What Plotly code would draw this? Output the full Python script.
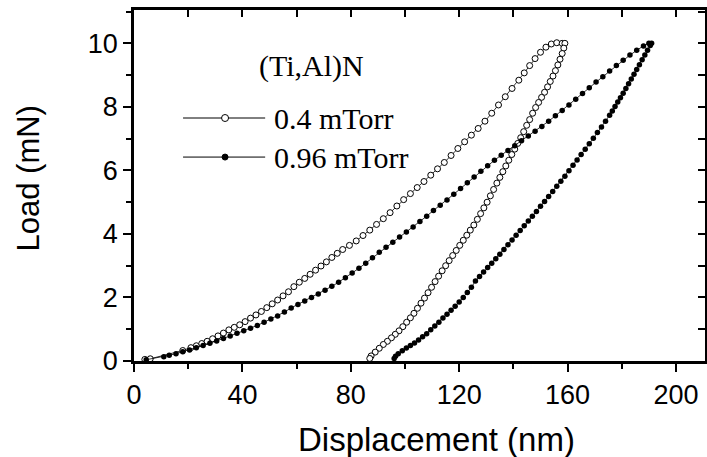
import plotly.graph_objects as go

# ---------------- data ----------------
# 0.4 mTorr, loading branch
open_load_x = [4, 6, 18, 21, 23, 25, 27, 29, 31, 33, 35, 37, 39, 41, 43, 45, 47, 49, 51, 53,
               55, 57, 59, 61, 63, 65, 67, 69, 71, 73, 75, 77, 79.5, 82, 84.5, 87, 89.5, 92,
               94.5, 97, 99.5, 102, 104.5, 107, 109.5, 112, 114.5, 117, 119.5, 122, 124.5,
               127, 129.5, 132, 134.5, 137, 139.5, 142, 144, 146, 148, 150, 152, 154, 156, 158]
open_load_y = [0.05, 0.07, 0.33, 0.42, 0.48, 0.55, 0.62, 0.70, 0.79, 0.88, 0.98, 1.06, 1.14,
               1.24, 1.35, 1.45, 1.56, 1.68, 1.80, 1.92, 2.05, 2.18, 2.34, 2.48, 2.60, 2.73,
               2.86, 2.99, 3.12, 3.26, 3.39, 3.51, 3.64, 3.78, 3.95, 4.12, 4.30, 4.48, 4.67,
               4.88, 5.08, 5.27, 5.46, 5.65, 5.85, 6.05, 6.25, 6.47, 6.69, 6.90, 7.11, 7.32,
               7.55, 7.80, 8.06, 8.32, 8.58, 8.84, 9.07, 9.30, 9.52, 9.72, 9.88, 9.98, 10.02, 10.0]
# 0.4 mTorr, unloading branch
open_unload_x = [159, 158.6, 158, 157.2, 156.4, 155.5, 154.6, 153.6, 152.6, 151.5, 150.4, 149.3,
                 148.2, 147.1, 146, 144.9, 143.8, 142.7, 141.6, 140.5, 139.4, 138.3, 137.2,
                 136.1, 135, 133.9, 132.7, 131.5, 130.3, 129.1, 127.9, 126.7, 125.4, 124.1,
                 122.8, 121.5, 120.2, 118.9, 117.6, 116.3, 115, 113.7, 112.4, 111.1, 109.8,
                 108.5, 107.2, 105.9, 104.6, 103.3, 102, 100.6, 99.2, 97.8, 96.4, 95, 93.5,
                 92, 90.5, 89, 87.5, 87]
open_unload_y = [10.0, 9.85, 9.68, 9.50, 9.32, 9.14, 8.97, 8.80, 8.63, 8.46, 8.30, 8.14, 7.98,
                 7.80, 7.60, 7.42, 7.22, 7.03, 6.85, 6.67, 6.50, 6.32, 6.14, 5.96, 5.78, 5.60,
                 5.40, 5.20, 5.00, 4.82, 4.64, 4.46, 4.28, 4.12, 3.96, 3.80, 3.64, 3.48, 3.32,
                 3.16, 3.00, 2.84, 2.67, 2.50, 2.32, 2.15, 1.98, 1.82, 1.66, 1.50, 1.36, 1.22,
                 1.08, 0.95, 0.84, 0.73, 0.62, 0.52, 0.40, 0.28, 0.16, 0.08]

# 0.96 mTorr, loading branch
fill_load_x = [4.5, 11, 13, 15.5, 18, 20.5, 23, 25.5, 28, 30.5, 33, 35.5, 38, 40.5, 43, 45.5,
               48, 50.5, 53, 55.5, 58, 60.5, 63, 65.5, 68, 70.5, 73, 75.5, 78, 80.5, 83, 85.5,
               88, 90.5, 93, 95.5, 98, 100.5, 103, 105.5, 108, 110.5, 113, 115.5, 118, 120.5,
               123, 125.5, 128, 130.5, 133, 135.5, 138, 140.5, 143, 145.5, 148, 150.5, 153,
               155.5, 158, 160.5, 163, 165.5, 168, 170.5, 173, 175.5, 178, 180.5, 183, 185.5,
               188, 190]
fill_load_y = [0.04, 0.13, 0.18, 0.23, 0.29, 0.35, 0.42, 0.49, 0.56, 0.63, 0.71, 0.79, 0.87,
               0.95, 1.03, 1.12, 1.22, 1.32, 1.42, 1.54, 1.67, 1.78, 1.89, 2.00, 2.11, 2.23,
               2.35, 2.48, 2.62, 2.77, 2.92, 3.08, 3.25, 3.42, 3.58, 3.74, 3.90, 4.06, 4.22,
               4.39, 4.56, 4.74, 4.90, 5.07, 5.25, 5.43, 5.61, 5.79, 5.97, 6.15, 6.32, 6.48,
               6.63, 6.78, 6.93, 7.08, 7.23, 7.38, 7.55, 7.72, 7.89, 8.06, 8.24, 8.42, 8.60,
               8.78, 8.95, 9.13, 9.30, 9.47, 9.63, 9.78, 9.92, 10.0]
# 0.96 mTorr, unloading branch
fill_unload_x = [191, 190.5, 189.5, 188.5, 187.5, 186.5, 185.5, 184.5, 183.5, 182.5, 181.5,
                 180.5, 179.5, 178.5, 177.5, 176.5, 175.5, 174, 172.5, 171, 169.5, 168, 166.5,
                 165, 163.5, 162, 160.5, 159, 157.5, 156, 154.5, 153, 151.5, 150, 148.5, 147,
                 145.5, 144, 142.5, 141, 139.5, 138, 136.5, 135, 133.5, 132, 130.5, 129, 127.5,
                 126, 124.5, 123, 121.5, 120, 118.5, 117, 115.5, 114, 112.5, 111, 109.5, 108,
                 106.5, 105, 103.5, 102, 100.5, 99, 97.5, 96.5, 96]
fill_unload_y = [10.0, 9.93, 9.78, 9.63, 9.48, 9.33, 9.18, 9.03, 8.88, 8.73, 8.58, 8.43, 8.29,
                 8.15, 8.01, 7.87, 7.74, 7.55, 7.37, 7.19, 7.01, 6.84, 6.67, 6.50, 6.33, 6.16,
                 5.99, 5.82, 5.66, 5.50, 5.34, 5.18, 5.02, 4.87, 4.71, 4.56, 4.41, 4.26, 4.11,
                 3.96, 3.81, 3.66, 3.51, 3.36, 3.22, 3.08, 2.94, 2.80, 2.66, 2.52, 2.32, 2.16,
                 2.00, 1.86, 1.72, 1.60, 1.47, 1.35, 1.22, 1.10, 0.98, 0.86, 0.76, 0.66, 0.57,
                 0.49, 0.41, 0.32, 0.23, 0.15, 0.08]

series_names = ["0.4 mTorr", "0.96 mTorr"]
legend_title = "(Ti,Al)N"
x_title = "Displacement (nm)"
y_title = "Load (mN)"
x_ticks = [0, 40, 80, 120, 160, 200]
y_ticks = [0, 2, 4, 6, 8, 10]

# ---------------- figure ----------------
X_RANGE = [0, 210.7]
Y_RANGE = [0, 11.05]
SANS = "Liberation Sans, Arial, sans-serif"
SERIF = "Liberation Serif, Times New Roman, serif"

fig = go.Figure()

open_marker = dict(symbol="circle", size=6, color="white", line=dict(color="black", width=1))
fill_marker = dict(symbol="circle", size=5.5, color="black", line=dict(color="black", width=0))

fig.add_trace(go.Scatter(x=open_load_x + open_unload_x, y=open_load_y + open_unload_y,
                         mode="lines+markers", name=series_names[0],
                         line=dict(color="black", width=0.8), marker=open_marker,
                         showlegend=False))
fig.add_trace(go.Scatter(x=fill_load_x + fill_unload_x, y=fill_load_y + fill_unload_y,
                         mode="lines+markers", name=series_names[1],
                         line=dict(color="black", width=0.8), marker=fill_marker,
                         showlegend=False))
# helper trace for the mirrored (top/right) axes
fig.add_trace(go.Scatter(x=[None], y=[None], xaxis="x2", yaxis="y2",
                         showlegend=False, hoverinfo="skip"))

# manual legend (sample line + marker + label), placed in data units
leg_rows_y = [7.65, 6.42]
leg_x0, leg_x1, leg_xm, leg_xt = 18.1, 48.4, 33.6, 50.8
markers_leg = [("white", 7), ("black", 6)]
for i, name in enumerate(series_names):
    yy = leg_rows_y[i]
    fig.add_shape(type="line", xref="x", yref="y", x0=leg_x0, x1=leg_x1, y0=yy, y1=yy,
                  line=dict(color="black", width=1))
    col, sz = markers_leg[i]
    fig.add_shape(type="circle", xref="x", yref="y", xsizemode="pixel", ysizemode="pixel",
                  xanchor=leg_xm, yanchor=yy, x0=-sz / 2, x1=sz / 2, y0=-sz / 2, y1=sz / 2,
                  fillcolor=col, line=dict(color="black", width=1))
    fig.add_annotation(x=leg_xt, y=yy, xref="x", yref="y", text=name, showarrow=False,
                       xanchor="left", yanchor="middle",
                       font=dict(family=SERIF, size=30, color="black"))
fig.add_annotation(x=65.6, y=9.3, xref="x", yref="y", text=legend_title, showarrow=False,
                   xanchor="center", yanchor="middle",
                   font=dict(family=SERIF, size=30, color="black"))

# axis titles
fig.add_annotation(x=0.529, y=-0.225, xref="paper", yref="paper", text=x_title,
                   showarrow=False, xanchor="center", yanchor="middle",
                   font=dict(family=SANS, size=33, color="black"))
fig.add_annotation(x=-0.185, y=0.521, xref="paper", yref="paper", text=y_title,
                   showarrow=False, xanchor="center", yanchor="middle", textangle=-90,
                   font=dict(family=SANS, size=31, color="black"))

axis_common = dict(showgrid=False, zeroline=False, showline=True, linecolor="black",
                   linewidth=2.5, tickcolor="black")

fig.update_layout(
    width=707, height=457,
    margin=dict(l=134, r=2, t=10, b=96),
    paper_bgcolor="white", plot_bgcolor="white",
    xaxis=dict(range=X_RANGE, tickvals=x_ticks, ticks="outside", ticklen=8, tickwidth=2,
               tickfont=dict(family=SANS, size=27, color="black"),
               minor=dict(dtick=20, tick0=0, ticks="outside", ticklen=5, tickwidth=1.5,
                          tickcolor="black"),
               **axis_common),
    yaxis=dict(range=Y_RANGE, tickvals=y_ticks, ticks="outside", ticklen=8, tickwidth=2,
               tickfont=dict(family=SANS, size=27, color="black"),
               minor=dict(dtick=1, tick0=0, ticks="outside", ticklen=5, tickwidth=1.5,
                          tickcolor="black"),
               **axis_common),
    xaxis2=dict(range=X_RANGE, overlaying="x", side="top", anchor="y2", dtick=20, tick0=0,
                ticks="inside", ticklen=7, tickwidth=2, showticklabels=False, **axis_common),
    yaxis2=dict(range=Y_RANGE, overlaying="y", side="right", anchor="x2", dtick=1, tick0=0,
                ticks="inside", ticklen=7, tickwidth=2, showticklabels=False, **axis_common),
    showlegend=False,
)

fig.write_html("out.html",
               config={"displayModeBar": False},
               post_script="document.body.style.margin='0';"
                           "document.body.style.overflow='hidden';")
